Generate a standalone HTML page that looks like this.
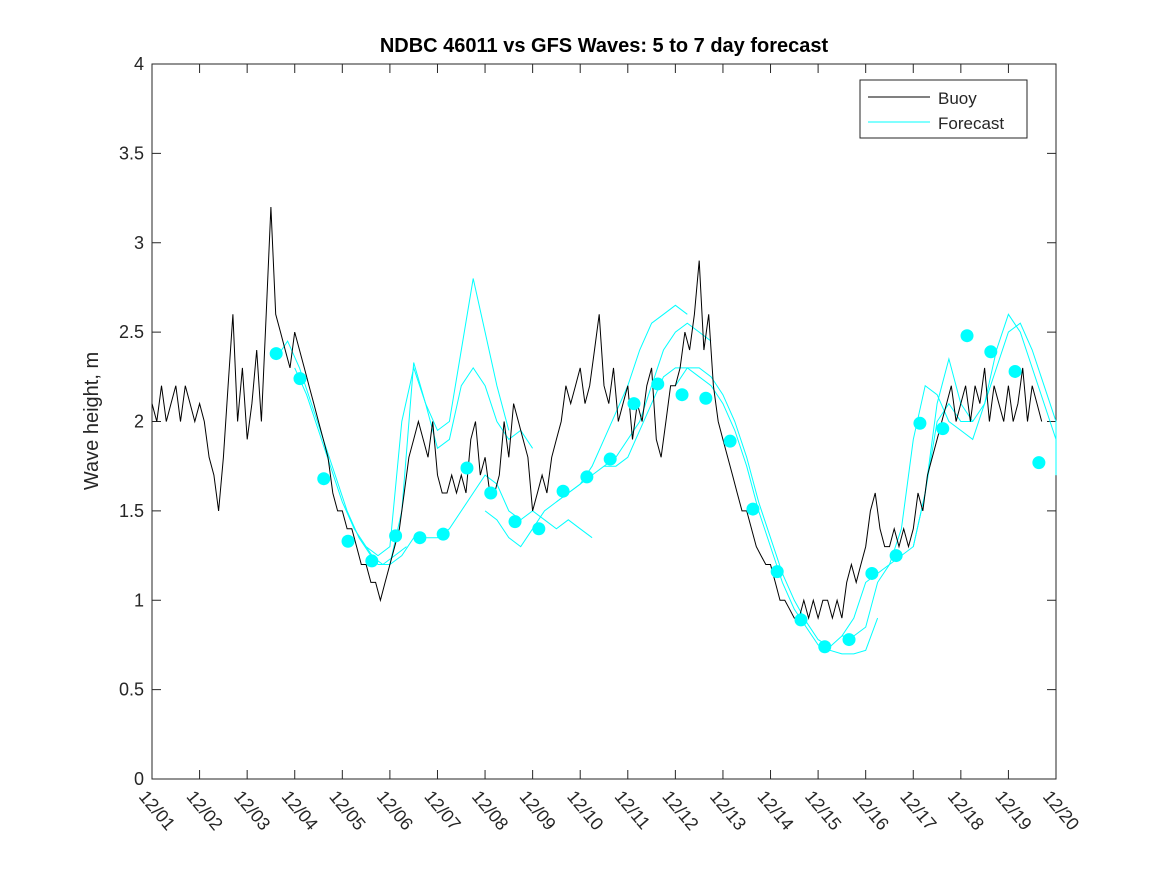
<!DOCTYPE html>
<html><head><meta charset="utf-8"><style>
body{margin:0;background:#fff;width:1167px;height:875px;overflow:hidden}
text{font-family:"Liberation Sans","DejaVu Sans",sans-serif;fill:#262626}
</style></head><body>
<svg id="chart" width="1167" height="875" xmlns="http://www.w3.org/2000/svg">
<rect width="1167" height="875" fill="#fff"/>
<text x="604" y="52" text-anchor="middle" font-size="20" font-weight="bold" style="fill:#000">NDBC 46011 vs GFS Waves: 5 to 7 day forecast</text>
<text transform="translate(98,421) rotate(-90)" text-anchor="middle" font-size="20">Wave height, m</text>
<g id="axes"></g>
<g id="series"></g>
<g>
<rect x="860" y="80" width="167" height="58" fill="#fff" stroke="#262626" stroke-width="1"/>
<line x1="868" y1="97" x2="930" y2="97" stroke="#000" stroke-width="1"/>
<text x="938" y="104" font-size="17">Buoy</text>
<line x1="868" y1="122" x2="930" y2="122" stroke="#00ffff" stroke-width="1"/>
<text x="938" y="129" font-size="17">Forecast</text>
</g>
</svg>
<script>
const xTickLabels=["12/01","12/02","12/03","12/04","12/05","12/06","12/07","12/08","12/09","12/10","12/11","12/12","12/13","12/14","12/15","12/16","12/17","12/18","12/19","12/20"];
const yTicks=[0,0.5,1,1.5,2,2.5,3,3.5,4];
const yTickLabels=["0","0.5","1","1.5","2","2.5","3","3.5","4"];
// buoy values every 0.1 day starting 12/01 00:00 (one row per day)
const buoyStep=0.1;
const buoyValues=[
2.1,2.0,2.2,2.0,2.1,2.2,2.0,2.2,2.1,2.0,
2.1,2.0,1.8,1.7,1.5,1.8,2.2,2.6,2.0,2.3,
1.9,2.1,2.4,2.0,2.6,3.2,2.6,2.5,2.4,2.3,
2.5,2.4,2.3,2.2,2.1,2.0,1.9,1.8,1.6,1.5,
1.5,1.4,1.4,1.3,1.2,1.2,1.1,1.1,1.0,1.1,
1.2,1.3,1.4,1.6,1.8,1.9,2.0,1.9,1.8,2.0,
1.7,1.6,1.6,1.7,1.6,1.7,1.6,1.9,2.0,1.7,
1.8,1.6,1.6,1.7,2.0,1.8,2.1,2.0,1.9,1.8,
1.5,1.6,1.7,1.6,1.8,1.9,2.0,2.2,2.1,2.2,
2.3,2.1,2.2,2.4,2.6,2.2,2.1,2.3,2.0,2.1,
2.2,1.9,2.1,2.0,2.2,2.3,1.9,1.8,2.0,2.2,
2.2,2.3,2.5,2.4,2.6,2.9,2.4,2.6,2.2,2.0,
1.9,1.8,1.7,1.6,1.5,1.5,1.4,1.3,1.25,1.2,
1.2,1.1,1.0,1.0,0.95,0.9,0.9,1.0,0.9,1.0,
0.9,1.0,1.0,0.9,1.0,0.9,1.1,1.2,1.1,1.2,
1.3,1.5,1.6,1.4,1.3,1.3,1.4,1.3,1.4,1.3,
1.4,1.6,1.5,1.7,1.8,1.9,2.0,2.1,2.2,2.0,
2.1,2.2,2.0,2.2,2.1,2.3,2.0,2.2,2.1,2.0,
2.2,2.0,2.1,2.3,2.0,2.2,2.1,2.0];
const forecastStep=0.25;
const forecastStarts=[2.6,3.0,4.5,5.0,7.0,8.5,9.5,11.0,14.5,16.0];
const forecastRuns=[
[2.35,2.45,2.3,2.1,1.9,1.7,1.5,1.35,1.25,1.2,1.25,1.3],
[2.3,2.15,1.95,1.75,1.55,1.4,1.3,1.25,1.3,2.0,2.3,2.1,1.95,2.0,2.4,2.8,2.5,2.2,1.95],
[1.3,1.2,1.2,1.5,2.33,2.1,1.85,1.9,2.2,2.3,2.2,2.0,1.9,1.95,1.85],
[1.2,1.25,1.35,1.35,1.35,1.4,1.5,1.6,1.7,1.65,1.5,1.45,1.5,1.45,1.4,1.45,1.4,1.35],
[1.5,1.45,1.35,1.3,1.4,1.5,1.55,1.6,1.65,1.7,1.75,1.8,1.9,2.0,2.2,2.4,2.5,2.55,2.5,2.45],
[1.55,1.6,1.65,1.75,1.9,2.05,2.2,2.4,2.55,2.6,2.65,2.6],
[1.75,1.75,1.8,1.95,2.1,2.25,2.3,2.3,2.25,2.2,2.1,1.95,1.75,1.5,1.3,1.1,0.95,0.85,0.75,0.72,0.7,0.7,0.72,0.9],
[2.2,2.3,2.3,2.25,2.15,2.0,1.8,1.55,1.35,1.15,1.0,0.88,0.78,0.74,0.8,0.8,0.85,1.1,1.2,1.25,1.3,1.6,2.1,2.35,2.1,2.0],
[0.8,0.9,1.1,1.15,1.2,1.4,1.9,2.2,2.15,2.0,1.95,1.9,2.1,2.4,2.6,2.5,2.3,2.1,1.9,1.8,1.7],
[1.3,1.6,2.0,2.1,2.0,2.0,2.1,2.3,2.5,2.55,2.4,2.2,2.0,1.9,1.85,1.7,1.8,1.9]];
const markerDays=[2.61,3.11,3.61,4.12,4.62,5.12,5.63,6.12,6.62,7.12,7.63,8.13,8.64,9.14,9.63,10.13,10.63,11.14,11.64,12.15,12.63,13.14,13.64,14.14,14.65,15.13,15.64,16.14,16.62,17.13,17.63,18.14,18.64];
const markerValues=[2.38,2.24,1.68,1.33,1.22,1.36,1.35,1.37,1.74,1.60,1.44,1.40,1.61,1.69,1.79,2.10,2.21,2.15,2.13,1.89,1.51,1.16,0.89,0.74,0.78,1.15,1.25,1.99,1.96,2.48,2.39,2.28,1.77];

const L=152,R=1056,T=64,B=779;
const xS=d=>L+(R-L)*d/19;
const yS=v=>B-(B-T)*v/4;
const NS="http://www.w3.org/2000/svg";
function mk(tag,attrs,parent){const e=document.createElementNS(NS,tag);for(const k in attrs)e.setAttribute(k,attrs[k]);parent.appendChild(e);return e;}
const ax=document.getElementById('axes'),sr=document.getElementById('series');
const box=mk('rect',{x:L,y:T,width:R-L,height:B-T,fill:'none',stroke:'#262626','stroke-width':1},ax);


xTickLabels.forEach((lab,i)=>{const x=xS(i);
 const t1=mk('line',{x1:x,y1:B,x2:x,y2:B-9,stroke:'#262626'},ax);
 
 
 mk('line',{x1:x,y1:T,x2:x,y2:T+9,stroke:'#262626'},ax);
 const t=mk('text',{x:0,y:0,'font-size':18,transform:`translate(${x-14},${B+18}) rotate(50)`},ax);
 t.textContent=lab;
 
 
});
yTicks.forEach((v,i)=>{const y=yS(v);
 const t1=mk('line',{x1:L,y1:y,x2:L+9,y2:y,stroke:'#262626'},ax);
 
 
 mk('line',{x1:R,y1:y,x2:R-9,y2:y,stroke:'#262626'},ax);
 const t=mk('text',{x:L-8,y:y+6,'font-size':18,'text-anchor':'end'},ax);
 t.textContent=yTickLabels[i];
 
 
});
forecastRuns.forEach((run,j)=>{
 const pts=run.map((v,i)=>xS(Math.min(19,forecastStarts[j]+i*forecastStep)).toFixed(1)+','+yS(v).toFixed(1)).join(' ');
 const p=mk('polyline',{points:pts,fill:'none',stroke:'#00ffff','stroke-width':1},sr);
 
 
});
const bpts=buoyValues.map((v,i)=>xS(i*buoyStep).toFixed(1)+','+yS(v).toFixed(1)).join(' ');
const bl=mk('polyline',{points:bpts,fill:'none',stroke:'#000','stroke-width':1},sr);


markerDays.forEach((d,i)=>{
 const c=mk('circle',{cx:xS(d),cy:yS(markerValues[i]),r:6.5,fill:'#00ffff'},sr);
 
 
});
</script>
</body></html>
